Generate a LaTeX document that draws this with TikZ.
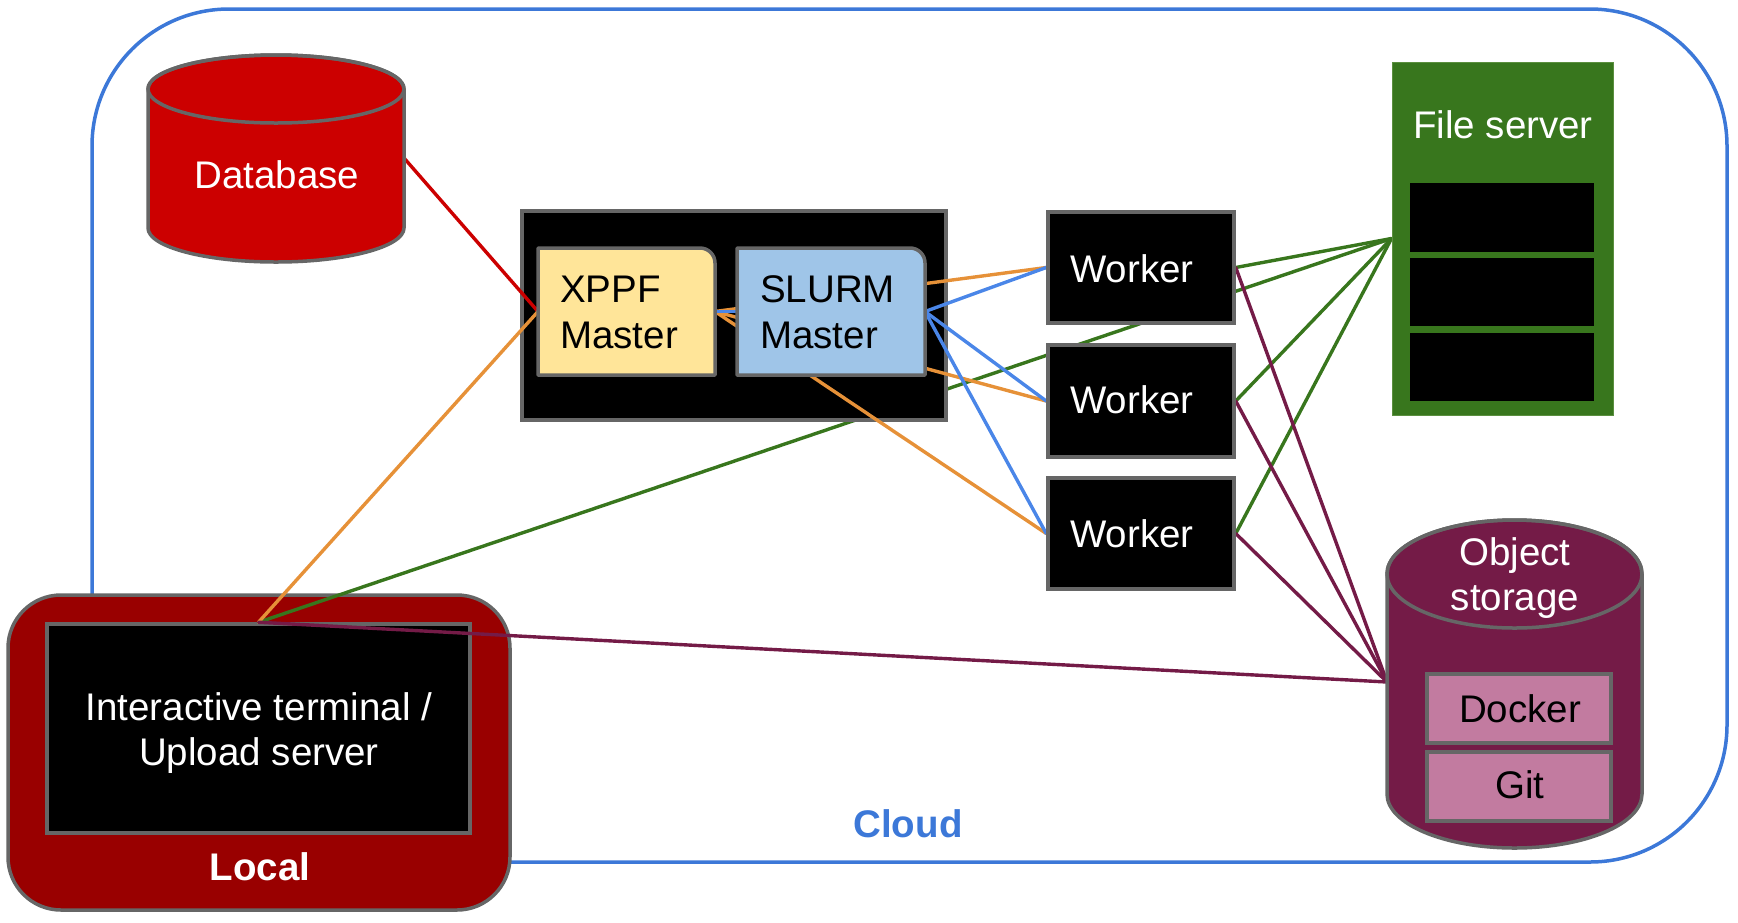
\documentclass[tikz,border=0pt]{standalone}
\usepackage{fontspec}
\setmainfont{Liberation Sans}
\definecolor{cloudblue}{HTML}{3C78D8}
\definecolor{lineblue}{HTML}{4A86E8}
\definecolor{lorange}{HTML}{E69138}
\definecolor{lgreen}{HTML}{38761D}
\definecolor{fsborder}{HTML}{5B8F3F}
\definecolor{lpurple}{HTML}{741B47}
\definecolor{dbred}{HTML}{CC0000}
\definecolor{localred}{HTML}{990000}
\definecolor{bordergray}{HTML}{666666}
\definecolor{xppfyellow}{HTML}{FFE599}
\definecolor{slurmblue}{HTML}{9FC5E8}
\definecolor{lpink}{HTML}{C27BA0}
\pgfdeclarelayer{back}
\pgfdeclarelayer{wiresA}
\pgfdeclarelayer{mid}
\pgfdeclarelayer{wiresB}
\pgfsetlayers{back,wiresA,mid,wiresB,main}
\begin{document}
\begin{tikzpicture}[x=1pt,y=1pt,
  box/.style={draw=bordergray, line width=3.5pt, inner sep=0pt},
  holder/.style={inner sep=0pt, outer sep=0pt},
  txt/.style={inner sep=0pt, anchor=base, font=\fontsize{38.5}{46}\selectfont},
  ltxt/.style={txt, anchor=base west},
  conn/.style={line width=3.4pt, line cap=round}]
\useasboundingbox (0,0) rectangle (1738,-922);

\begin{pgfonlayer}{back}
  % cloud
  \draw[cloudblue, line width=3.5pt, rounded corners=137pt] (92,-9) rectangle (1727,-862);
  % local
  \node[box, fill=localred, rounded corners=53pt, minimum width=502pt, minimum height=315pt] (local) at (259,-752.5) {};
  \node[box, fill=black, minimum width=423pt, minimum height=209pt] (term) at (258.5,-728.5) {};
\end{pgfonlayer}

\node[txt, text=cloudblue, font=\fontsize{38.5}{46}\selectfont\bfseries] (cloudlbl) at (908,-837) {Cloud};
\node[txt, text=white, font=\fontsize{38.5}{46}\selectfont\bfseries] (locallbl) at (260,-880) {Local};
\node[txt, text=white] (termA) at (259,-720) {Interactive terminal /};
\node[txt, text=white] (termB) at (259,-765) {Upload server};

% master box
\begin{pgfonlayer}{mid}
  \node[box, fill=black, minimum width=424pt, minimum height=209pt] (master) at (734,-315.5) {};
\end{pgfonlayer}
\node[holder, minimum width=177pt, minimum height=127pt] (xppf) at (626.5,-311.5) {};
\draw[bordergray, line width=3.5pt, fill=xppfyellow, line join=round]
  (xppf.south west) -- (xppf.north west) -- ([xshift=-15pt]xppf.north east)
  arc (90:0:15pt) -- (xppf.south east) -- cycle;
\node[holder, minimum width=188pt, minimum height=127pt] (slurm) at (831,-311.5) {};
\draw[bordergray, line width=3.5pt, fill=slurmblue, line join=round]
  (slurm.south west) -- (slurm.north west) -- ([xshift=-15pt]slurm.north east)
  arc (90:0:15pt) -- (slurm.south east) -- cycle;
\node[ltxt] (xppfA) at (560,-302) {XPPF};
\node[ltxt] (xppfB) at (560,-348) {Master};
\node[ltxt] (slurmA) at (760,-302) {SLURM};
\node[ltxt] (slurmB) at (760,-348) {Master};

% workers
\node[box, fill=black, minimum width=186pt, minimum height=111pt] (w1) at (1141,-267.5) {};
\node[box, fill=black, minimum width=186pt, minimum height=112pt] (w2) at (1141,-401) {};
\node[box, fill=black, minimum width=186pt, minimum height=111pt] (w3) at (1141,-533.5) {};
\node[ltxt, text=white] (w1t) at (1070,-282) {Worker};
\node[ltxt, text=white] (w2t) at (1070,-413) {Worker};
\node[ltxt, text=white] (w3t) at (1070,-547) {Worker};

% file server
\node[draw=fsborder, line width=1pt, fill=lgreen, inner sep=0pt, minimum width=221pt, minimum height=353pt] (fs) at (1502.5,-238.5) {};
\node[txt, text=white] (fst) at (1503,-138) {File server};
\node[fill=black, inner sep=0pt, minimum width=184pt, minimum height=69pt] (fs1) at (1502,-217.5) {};
\node[fill=black, inner sep=0pt, minimum width=184pt, minimum height=68pt] (fs2) at (1502,-292) {};
\node[fill=black, inner sep=0pt, minimum width=184pt, minimum height=68pt] (fs3) at (1502,-367) {};

% object storage
\draw[bordergray, line width=3.5pt, fill=lpurple]
  (1387,-574) -- (1387,-794) arc (180:360:127.5pt and 54pt) -- (1642,-574)
  arc (0:180:127.5pt and 54pt) -- cycle;
\draw[bordergray, line width=3.5pt] (1514.5,-574) ellipse (127.5pt and 54pt);
\coordinate (osport) at (1387,-682);
\node[txt, text=white] (osA) at (1515,-565) {Object};
\node[txt, text=white] (osB) at (1515,-610) {storage};
\node[box, fill=lpink, minimum width=184pt, minimum height=69pt] (docker) at (1519,-708.5) {};
\node[box, fill=lpink, minimum width=184pt, minimum height=69pt] (git) at (1519,-786.5) {};
\node[txt] (dockert) at (1520,-722) {Docker};
\node[txt] (gitt) at (1520,-798) {Git};

% database
\draw[bordergray, line width=3.5pt, fill=dbred]
  (148,-89) -- (148,-228) arc (180:360:128pt and 34pt) -- (404,-89)
  arc (0:180:128pt and 34pt) -- cycle;
\draw[bordergray, line width=3.5pt] (276,-89) ellipse (128pt and 34pt);
\coordinate (dbport) at (404,-158);
\node[txt, text=white] (dbt) at (277,-188) {Database};

% connectors hidden behind the master box
\begin{pgfonlayer}{wiresA}
  \draw[conn, lgreen] (term.north) -- (fs.west);
\end{pgfonlayer}
% connectors drawn over the master box
\begin{pgfonlayer}{wiresB}
  \draw[conn, dbred] (dbport) -- (xppf.west);
  \draw[conn, lorange] (term.north) -- (xppf.west);
  \draw[conn, lorange] (xppf.east) -- (w1.west);
  \draw[conn, lorange] (xppf.east) -- (w2.west);
  \draw[conn, lorange] (xppf.east) -- (w3.west);
  \draw[conn, lineblue] (xppf.east) -- (slurm.west);
  \draw[conn, lineblue] (slurm.east) -- (w1.west);
  \draw[conn, lineblue] (slurm.east) -- (w2.west);
  \draw[conn, lineblue] (slurm.east) -- (w3.west);
  \draw[conn, lgreen] (w1.east) -- (fs.west);
  \draw[conn, lgreen] (w2.east) -- (fs.west);
  \draw[conn, lgreen] (w3.east) -- (fs.west);
  \draw[conn, lpurple] (term.north) -- (osport);
  \draw[conn, lpurple] (w1.east) -- (osport);
  \draw[conn, lpurple] (w2.east) -- (osport);
  \draw[conn, lpurple] (w3.east) -- (osport);
\end{pgfonlayer}
\end{tikzpicture}
\end{document}
